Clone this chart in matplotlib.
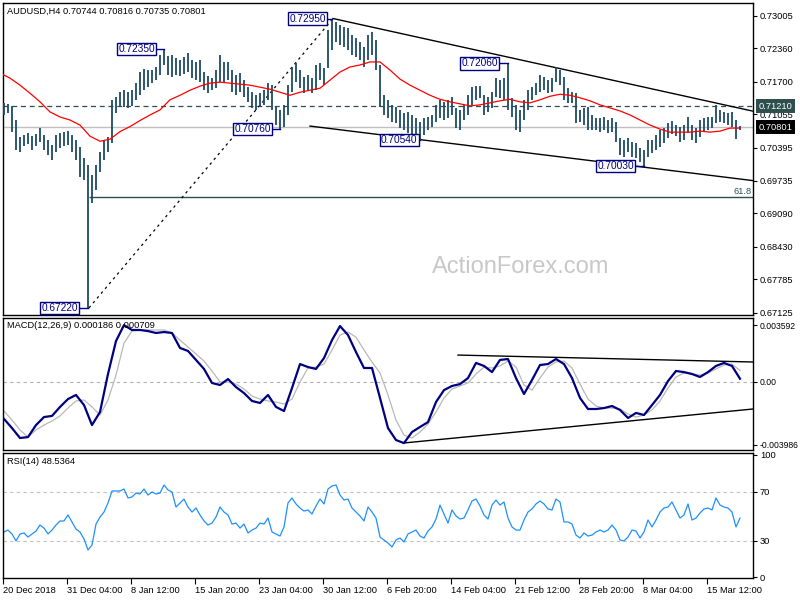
import numpy as np
import matplotlib
matplotlib.use("Agg")
import matplotlib.pyplot as plt

plt.rcParams['font.family'] = ['Liberation Sans', 'DejaVu Sans']

# ---------------- data ----------------
symbol_title = "AUDUSD,H4 0.70744 0.70816 0.70735 0.70801"
macd_title = "MACD(12,26,9) 0.000186 0.000709"
rsi_title = "RSI(14) 48.5364"

highs = [0.7128, 0.7126, 0.7122, 0.7094, 0.7060, 0.7064, 0.7068, 0.7062, 0.7066, 0.7078,
         0.7064, 0.7054, 0.7044, 0.7064, 0.7068, 0.7070, 0.7072, 0.7064, 0.7054, 0.7041,
         0.7019, 0.7005, 0.6985, 0.7005, 0.7031, 0.7054, 0.7060, 0.7134, 0.7139, 0.7149,
         0.7153, 0.7149, 0.7153, 0.7167, 0.7189, 0.7195, 0.7193, 0.7193, 0.7199, 0.7223,
         0.7235, 0.7221, 0.7223, 0.7217, 0.7213, 0.7219, 0.7227, 0.7213, 0.7209, 0.7213,
         0.7189, 0.7181, 0.7177, 0.7193, 0.7223, 0.7209, 0.7209, 0.7193, 0.7183, 0.7187,
         0.7173, 0.7159, 0.7149, 0.7143, 0.7147, 0.7153, 0.7167, 0.7163, 0.7120, 0.7114,
         0.7124, 0.7163, 0.7199, 0.7207, 0.7193, 0.7179, 0.7183, 0.7177, 0.7203, 0.7207,
         0.7197, 0.7272, 0.7295, 0.7288, 0.7282, 0.7278, 0.7276, 0.7262, 0.7256, 0.7248,
         0.7239, 0.7262, 0.7268, 0.7252, 0.7203, 0.7143, 0.7134, 0.7124, 0.7120, 0.7114,
         0.7108, 0.7110, 0.7104, 0.7098, 0.7090, 0.7098, 0.7100, 0.7104, 0.7124, 0.7134,
         0.7130, 0.7134, 0.7139, 0.7118, 0.7114, 0.7124, 0.7143, 0.7159, 0.7161, 0.7161,
         0.7143, 0.7139, 0.7149, 0.7177, 0.7173, 0.7177, 0.7206, 0.7138, 0.7124, 0.7114,
         0.7134, 0.7153, 0.7159, 0.7167, 0.7183, 0.7179, 0.7173, 0.7177, 0.7199, 0.7193,
         0.7179, 0.7157, 0.7149, 0.7147, 0.7114, 0.7118, 0.7120, 0.7104, 0.7098, 0.7098,
         0.7100, 0.7094, 0.7098, 0.7090, 0.7058, 0.7054, 0.7058, 0.7050, 0.7048, 0.7039,
         0.7035, 0.7054, 0.7054, 0.7064, 0.7074, 0.7078, 0.7088, 0.7092, 0.7084, 0.7080,
         0.7084, 0.7100, 0.7084, 0.7078, 0.7094, 0.7098, 0.7100, 0.7100, 0.7124, 0.7114,
         0.7110, 0.7108, 0.7110, 0.7094, 0.70816]

lows = [0.7104, 0.7108, 0.7070, 0.7035, 0.7031, 0.7043, 0.7046, 0.7035, 0.7043, 0.7050,
        0.7035, 0.7025, 0.7015, 0.7031, 0.7039, 0.7043, 0.7044, 0.7031, 0.7015, 0.6981,
        0.6975, 0.6722, 0.6930, 0.6955, 0.6991, 0.7015, 0.7031, 0.7048, 0.7108, 0.7122,
        0.7120, 0.7118, 0.7122, 0.7134, 0.7143, 0.7153, 0.7159, 0.7167, 0.7173, 0.7183,
        0.7203, 0.7183, 0.7179, 0.7183, 0.7181, 0.7185, 0.7189, 0.7177, 0.7173, 0.7169,
        0.7153, 0.7147, 0.7153, 0.7157, 0.7169, 0.7167, 0.7173, 0.7149, 0.7143, 0.7149,
        0.7139, 0.7130, 0.7118, 0.7114, 0.7120, 0.7124, 0.7134, 0.7114, 0.7084, 0.7076,
        0.7080, 0.7104, 0.7149, 0.7169, 0.7157, 0.7147, 0.7153, 0.7147, 0.7153, 0.7173,
        0.7163, 0.7197, 0.7233, 0.7248, 0.7243, 0.7239, 0.7233, 0.7223, 0.7219, 0.7213,
        0.7199, 0.7213, 0.7223, 0.7193, 0.7120, 0.7104, 0.7098, 0.7090, 0.7088, 0.7078,
        0.7074, 0.7068, 0.7064, 0.7058, 0.7054, 0.7064, 0.7074, 0.7080, 0.7090, 0.7098,
        0.7094, 0.7098, 0.7104, 0.7078, 0.7074, 0.7094, 0.7104, 0.7124, 0.7134, 0.7138,
        0.7104, 0.7110, 0.7118, 0.7139, 0.7138, 0.7134, 0.7114, 0.7100, 0.7074, 0.7070,
        0.7094, 0.7114, 0.7134, 0.7143, 0.7149, 0.7153, 0.7147, 0.7149, 0.7169, 0.7163,
        0.7134, 0.7128, 0.7128, 0.7088, 0.7090, 0.7084, 0.7074, 0.7074, 0.7074, 0.7070,
        0.7074, 0.7068, 0.7070, 0.7050, 0.7025, 0.7021, 0.7031, 0.7021, 0.7019, 0.7011,
        0.7003, 0.7021, 0.7029, 0.7035, 0.7041, 0.7048, 0.7058, 0.7066, 0.7062, 0.7050,
        0.7054, 0.7068, 0.7054, 0.7048, 0.7060, 0.7070, 0.7074, 0.7078, 0.7088, 0.7090,
        0.7088, 0.7084, 0.7080, 0.7056, 0.70735]

# red moving average, one reading every 2.5 bars
ma_line = [0.7187, 0.7177, 0.7163, 0.7147, 0.7130, 0.7110, 0.7100, 0.7094, 0.7084, 0.7062,
           0.7052, 0.7056, 0.7071, 0.7081, 0.7093, 0.7104, 0.7114, 0.7134, 0.7143, 0.7153,
           0.7161, 0.7167, 0.7169, 0.7167, 0.7165, 0.7163, 0.7159, 0.7155, 0.7149, 0.7143,
           0.7149, 0.7153, 0.7157, 0.7173, 0.7189, 0.7199, 0.7203, 0.7209, 0.7209, 0.7193,
           0.7175, 0.7163, 0.7153, 0.7143, 0.7135, 0.7130, 0.7126, 0.7122, 0.7124, 0.7128,
           0.7132, 0.7135, 0.7130, 0.7128, 0.7134, 0.7141, 0.7145, 0.7143, 0.7138, 0.7132,
           0.7124, 0.7118, 0.7112, 0.7104, 0.7094, 0.7084, 0.7076, 0.7070, 0.7070, 0.7070,
           0.7072, 0.7070, 0.7072, 0.7078, 0.7078]

# MACD main and signal, one reading every 2 bars
macd_main = [-0.00236, -0.00294, -0.00357, -0.00351, -0.00275, -0.00224, -0.00217, -0.00160, -0.00110, -0.00084,
             -0.00148, -0.00275, -0.00192, 0.00049, 0.00258, 0.00359, 0.00328, 0.00328, 0.00321, 0.00309,
             0.00315, 0.00309, 0.00214, 0.00195, 0.00138, 0.00081, -0.00008, -0.00021, 0.00017, -0.00034,
             -0.00072, -0.00122, -0.00135, -0.00084, -0.00160, -0.00186, -0.00040, 0.00112, 0.00093, 0.00081,
             0.00150, 0.00264, 0.00353, 0.00296, 0.00188, 0.00087, 0.00087, -0.00103, -0.00294, -0.00370,
             -0.00389, -0.00319, -0.00287, -0.00256, -0.00129, -0.00053, -0.00027, -0.00015, 0.00023, 0.00119,
             0.00100, 0.00061, 0.00138, 0.00144, 0.00023, -0.00078, 0.00011, 0.00106, 0.00112, 0.00144,
             0.00112, 0.00023, -0.00103, -0.00173, -0.00173, -0.00167, -0.00154, -0.00179, -0.00230, -0.00198,
             -0.00211, -0.00148, -0.00084, 0.00004, 0.00068, 0.00061, 0.00049, 0.00030, 0.00061, 0.00100,
             0.00119, 0.00100, 0.00019]
macd_signal = [-0.00186, -0.00243, -0.00306, -0.00351, -0.00306, -0.00275, -0.00249, -0.00217, -0.00167, -0.00122,
               -0.00116, -0.00160, -0.00211, -0.00116, 0.00042, 0.00245, 0.00321, 0.00328, 0.00328, 0.00328,
               0.00328, 0.00309, 0.00264, 0.00220, 0.00176, 0.00131, 0.00068, -0.00002, -0.00002, -0.00015,
               -0.00046, -0.00091, -0.00110, -0.00122, -0.00129, -0.00141, -0.00110, -0.00002, 0.00087, 0.00093,
               0.00112, 0.00201, 0.00296, 0.00315, 0.00283, 0.00201, 0.00125, 0.00055, -0.00084, -0.00243,
               -0.00338, -0.00357, -0.00319, -0.00268, -0.00192, -0.00103, -0.00046, -0.00027, -0.00008, 0.00049,
               0.00093, 0.00087, 0.00100, 0.00131, 0.00093, -0.00021, -0.00053, 0.00023, 0.00093, 0.00125,
               0.00131, 0.00087, -0.00015, -0.00110, -0.00154, -0.00167, -0.00167, -0.00173, -0.00205, -0.00224,
               -0.00211, -0.00179, -0.00122, -0.00040, 0.00030, 0.00055, 0.00049, 0.00042, 0.00055, 0.00081,
               0.00106, 0.00112, 0.00071]

# RSI(14), one reading per bar
rsi_vals = [37.1, 38.7, 35.5, 29.8, 35.5, 36.3, 33.0, 35.5, 37.9, 42.8,
            40.3, 35.5, 38.7, 42.8, 46.1, 46.1, 51.0, 45.3, 39.5, 37.1,
            31.4, 22.4, 26.5, 43.6, 49.3, 53.4, 60.8, 70.6, 70.6, 70.6,
            72.2, 64.9, 65.7, 68.9, 68.1, 72.2, 67.3, 69.8, 68.1, 68.9,
            75.5, 71.4, 69.8, 57.5, 60.8, 64.0, 57.5, 53.4, 56.7, 51.0,
            46.1, 42.8, 44.4, 49.3, 57.5, 53.4, 51.0, 43.6, 44.4, 40.3,
            43.6, 36.3, 38.7, 40.3, 44.4, 43.6, 48.5, 37.1, 35.5, 33.8,
            41.2, 60.8, 64.9, 60.0, 56.7, 54.2, 55.1, 51.8, 58.3, 64.0,
            60.0, 72.2, 74.7, 75.5, 67.3, 63.2, 64.0, 56.7, 53.4, 50.2,
            46.1, 57.5, 53.4, 48.5, 33.0, 30.6, 28.1, 24.9, 30.6, 32.2,
            28.9, 35.5, 37.1, 38.7, 33.8, 32.2, 37.9, 41.2, 47.7, 59.1,
            51.8, 44.4, 55.1, 50.2, 47.7, 48.5, 55.1, 62.4, 64.0, 58.3,
            51.0, 47.7, 59.1, 63.2, 59.1, 61.6, 48.5, 41.2, 38.7, 38.7,
            46.9, 53.4, 55.9, 60.0, 62.4, 60.0, 55.9, 55.1, 64.0, 61.6,
            45.3, 45.3, 43.6, 34.6, 32.2, 36.3, 33.8, 34.6, 37.1, 38.7,
            37.1, 38.7, 42.8, 38.7, 30.6, 29.8, 33.0, 38.7, 37.9, 32.2,
            37.1, 46.9, 41.2, 46.9, 53.4, 56.7, 57.5, 61.6, 55.1, 48.5,
            51.0, 60.0, 46.9, 48.5, 52.6, 55.9, 56.7, 55.1, 64.9, 59.1,
            57.5, 56.7, 53.4, 41.2, 48.5]

price_ticks = [0.73005, 0.72360, 0.71700, 0.71055, 0.70395, 0.69735, 0.69090, 0.68430, 0.67785, 0.67125]
macd_ticks = [0.003592, 0.0, -0.003986]
macd_tick_labels = ["0.003592", "0.00", "-0.003986"]
rsi_ticks = [100, 70, 30, 0]
rsi_levels = [70, 30]
date_labels = ["20 Dec 2018", "31 Dec 04:00", "8 Jan 12:00", "15 Jan 20:00", "23 Jan 04:00",
               "30 Jan 12:00", "6 Feb 20:00", "14 Feb 04:00", "21 Feb 12:00", "28 Feb 20:00",
               "8 Mar 04:00", "15 Mar 12:00"]

resistance_level = 0.71210
last_price = 0.70801
fib_low, fib_high = 0.67220, 0.72950
fib_ratio = 0.618
# pivot labels: (bar index, price, gap in bars to label box)
pivots = [(82, 0.72950, 1.5), (40, 0.72350, 2.3), (69, 0.70760, 2.3), (104, 0.70540, 0.6),
          (126, 0.72060, 2.5), (160, 0.70030, 2.5), (21, 0.67220, 2.5)]
# trend lines (bar index, value)
upper_trend = ([82.25, 187.25], [0.72950, 0.71115])
lower_trend = ([76.5, 187.25], [0.70820, 0.69740])
macd_upper_trend = ([113.5, 187.25], [0.00169, 0.00125])
macd_lower_trend = ([99.75, 187.25], [-0.00389, -0.00173])

# ---------------- figure ----------------
W, H = 800, 600
fig = plt.figure(figsize=(W / 100, H / 100), dpi=100)
fig.patch.set_facecolor('white')

def px_axes(top, bottom, left=3, right=753):
    return fig.add_axes([left / W, 1 - bottom / H, (right - left) / W, (bottom - top) / H])

ax1 = px_axes(3, 315)
ax2 = px_axes(318, 450)
ax3 = px_axes(453, 578)

XL = (-0.25, 187.25)
FS = 6.7
bar_col = '#1d4a66'
navy = '#000080'

for ax in (ax1, ax2, ax3):
    ax.set_xlim(*XL)
    for s in ax.spines.values():
        s.set_color('black')
        s.set_linewidth(1.0)
    ax.yaxis.tick_right()
    ax.tick_params(axis='y', length=3, width=0.8, pad=2, labelsize=FS, colors='black')
    ax.set_facecolor('white')

ax1.set_xticks([])
ax2.set_xticks([])

# ---- main price panel ----
ax1.set_ylim(0.67079, 0.73257)
ax1.set_yticks(price_ticks)
ax1.set_yticklabels([f"{v:.5f}" for v in price_ticks])

idx = np.arange(len(highs))
ax1.axhline(last_price, color='#c0c0c0', lw=1.0, zorder=1)
ax1.axhline(resistance_level, color='#2f4f4f', lw=0.9, ls=(0, (4, 3)), zorder=1)
ax1.vlines(idx, lows, highs, color=bar_col, lw=1.3, zorder=3)

ma_x = np.arange(len(ma_line)) * 2.5 - 1
ax1.plot(ma_x, ma_line, color='red', lw=0.9, zorder=4)

fib_level = fib_high - fib_ratio * (fib_high - fib_low)
ax1.hlines(fib_level, 21.25, XL[1], color='#2f4f4f', lw=1.0, zorder=2)
ax1.text(186.9, fib_level + 0.0002, "61.8", ha='right', va='bottom', fontsize=FS, color='#2f4f4f')
ax1.plot([21.25, 82.25], [fib_low, fib_high], color='black', lw=0.9, ls=(0, (2, 3)), zorder=2)

ax1.plot(*upper_trend, color='black', lw=1.0, zorder=2)
ax1.plot(*lower_trend, color='black', lw=1.0, zorder=2)

for bi, p, gap in pivots:
    ax1.plot([bi - gap, bi], [p, p], color=navy, lw=1.0, zorder=5)
    ax1.text(bi - gap, p, f"{p:.5f}", ha='right', va='center', fontsize=7.3, color=navy, zorder=6,
             bbox=dict(boxstyle='square,pad=0.12', fc='white', ec=navy, lw=1.0))

ytr = ax1.get_yaxis_transform()
ax1.text(1.0075, resistance_level, f"{resistance_level:.5f}", transform=ytr, ha='left', va='center',
         fontsize=FS, color='white', clip_on=False, zorder=10,
         bbox=dict(boxstyle='square,pad=0.28', fc='#2f4f4f', ec='none'))
ax1.text(1.0075, last_price, f"{last_price:.5f}", transform=ytr, ha='left', va='center',
         fontsize=FS, color='white', clip_on=False, zorder=10,
         bbox=dict(boxstyle='square,pad=0.28', fc='black', ec='none'))

# ---- MACD panel ----
ax2.set_ylim(-0.00433, 0.00404)
ax2.set_yticks(macd_ticks)
ax2.set_yticklabels(macd_tick_labels)
ax2.tick_params(axis='y', labelsize=6.2, pad=1.5)
ax2.axhline(0, color='#b0b0b0', lw=0.8, ls=(0, (3, 3)), zorder=1)
mx = np.arange(len(macd_main)) * 2
ax2.plot(np.arange(len(macd_signal)) * 2, macd_signal, color='#b8b8b8', lw=0.9, zorder=2)
ax2.plot(mx, macd_main, color=navy, lw=1.6, zorder=3)
ax2.plot(*macd_upper_trend, color='black', lw=1.0, zorder=2)
ax2.plot(*macd_lower_trend, color='black', lw=1.0, zorder=2)

# ---- RSI panel ----
ax3.set_ylim(-0.45, 101.6)
ax3.set_yticks(rsi_ticks)
ax3.set_yticklabels([str(v) for v in rsi_ticks])
for lv in rsi_levels:
    ax3.axhline(lv, color='#c0c0c0', lw=0.8, ls=(0, (3, 3)), zorder=1)
ax3.plot(np.arange(len(rsi_vals)), rsi_vals, color='#1e90ff', lw=0.9, zorder=2)

tick_pos = [16 * k - 0.2 for k in range(len(date_labels))]
ax3.set_xticks(tick_pos)
ax3.set_xticklabels(date_labels, ha='left', fontsize=FS)
ax3.tick_params(axis='x', length=4, width=0.8, pad=2, direction='out')

# ---- titles and watermark ----
fig.text(7 / W, 1 - 11 / H, symbol_title, fontsize=FS, va='center', ha='left')
fig.text(7 / W, 1 - 326 / H, macd_title, fontsize=FS, va='center', ha='left')
fig.text(7 / W, 1 - 461 / H, rsi_title, fontsize=FS, va='center', ha='left')
fig.text(521 / W, 1 - 267 / H, "ActionForex.com", fontsize=17, family='Liberation Sans',
         color='#c8c8c8', ha='center', va='center')

fig.savefig("out.png", dpi=100, facecolor='white')
